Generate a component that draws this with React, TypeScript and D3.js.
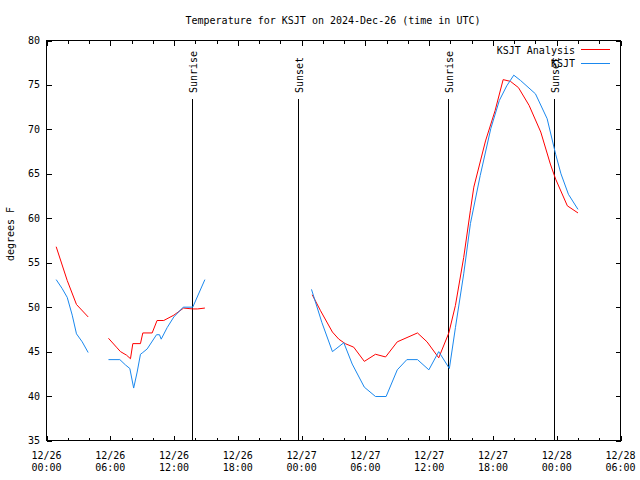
import React from "react";
import * as d3 from "d3";

// ---- data (hours after 2024-12-26 00:00 UTC, temperature °F; null = gap) ----
const analysisHours: (number | null)[] = [
  0.91, 1.95, 2.82, 3.92, null,
  5.83, 6.58, 6.96, 7.53, 7.9, 8.12, 8.84, 9.06, 9.94, 10.4, 11.03, 11.98, 12.9, 13.76, 14.2, 14.9, null,
  25.0, 25.78, 26.9, 27.5, 28.1, 28.9, 29.9, 30.95, 31.9, 33.0, 34.9, 35.8, 36.9, 37.85, 38.47, 39.25, 39.88,
  40.2, 41.3, 42.2, 42.96, 43.65, 44.4, 45.4, 46.5, 47.4, 47.9, 49.0, 50.0,
];
const analysisTemps: (number | null)[] = [
  56.8, 53.0, 50.3, 48.9, null,
  46.5, 45.5, 45.0, 44.6, 44.2, 45.9, 45.9, 47.1, 47.1, 48.5, 48.5, 49.1, 49.9, 49.8, 49.8, 49.9, null,
  51.4, 49.6, 47.2, 46.4, 45.9, 45.5, 43.9, 44.7, 44.4, 46.1, 47.1, 46.1, 44.3, 47.1, 50.2, 55.6, 60.9,
  63.5, 68.7, 72.1, 75.6, 75.4, 74.7, 72.7, 69.7, 66.1, 64.4, 61.4, 60.6,
];
const obsHours: (number | null)[] = [
  0.91, 1.47, 1.95, 2.42, 2.82, 3.36, 3.92, null,
  5.83, 6.9, 7.43, 7.84, 8.2, 8.53, 8.84, 9.06, 9.47, 10.35, 10.63, 10.79, 11.35, 11.98, 12.86, 13.76, 14.9, null,
  24.93, 25.9, 26.9, 27.97, 28.76, 29.9, 30.95, 31.95, 33.0, 33.9, 34.9, 35.97, 36.9, 37.9, 38.47, 39.25, 39.88,
  40.8, 41.8, 42.6, 43.3, 43.96, 44.6, 46.0, 47.1, 47.9, 48.4, 49.1, 50.0,
];
const obsTemps: (number | null)[] = [
  53.1, 52.1, 51.1, 49.1, 47.0, 46.1, 44.9, null,
  44.1, 44.1, 43.5, 43.1, 40.9, 42.7, 44.7, 44.9, 45.3, 46.9, 46.9, 46.4, 47.7, 48.9, 50.0, 50.0, 53.1, null,
  52.0, 48.3, 45.0, 46.0, 43.6, 41.0, 39.95, 39.95, 42.95, 44.1, 44.1, 42.95, 45.0, 43.1, 47.7, 53.75, 59.4,
  64.8, 70.1, 73.25, 74.9, 76.1, 75.5, 74.0, 71.2, 67.2, 65.0, 62.7, 61.0,
];

const sunEventHours = [13.7, 23.66, 37.77, 47.75];
const sunEventLabels = ["Sunrise", "Sunset", "Sunrise", "Sunset"];

const xTickDates = ["12/26", "12/26", "12/26", "12/26", "12/27", "12/27", "12/27", "12/27", "12/28", "12/28"];
const xTickTimes = ["00:00", "06:00", "12:00", "18:00", "00:00", "06:00", "12:00", "18:00", "00:00", "06:00"];
const yTicks = [35, 40, 45, 50, 55, 60, 65, 70, 75, 80];

const seriesNames = ["KSJT Analysis", "KSJT"];
const seriesColors = ["#ff0000", "#1a88ee"];

const TITLE = "Temperature for KSJT on 2024-Dec-26 (time in UTC)";
const Y_LABEL = "degrees F";

const START = Date.UTC(2024, 11, 26, 0, 0, 0);
const HOUR = 3600 * 1000;
const toDate = (h: number) => new Date(START + h * HOUR);

const FONT = "'DejaVu Sans Mono', 'Liberation Mono', monospace";

export default function App() {
  const W = 640, H = 480;
  const left = 46.5, right = 620.5, top = 40.5, bottom = 440.5;

  const x = d3.scaleUtc().domain([toDate(0), toDate(54)]).range([left, right]);
  const y = d3.scaleLinear().domain([35, 80]).range([bottom, top]);

  type P = { h: number | null; v: number | null };
  const mk = (hs: (number | null)[], vs: (number | null)[]): P[] => hs.map((h, i) => ({ h, v: vs[i] }));
  const line = d3
    .line<P>()
    .defined((d) => d.h != null && d.v != null)
    .x((d) => x(toDate(d.h as number)))
    .y((d) => y(d.v as number));

  const series = [mk(analysisHours, analysisTemps), mk(obsHours, obsTemps)];

  const majorTicks = x.ticks(d3.utcHour.every(6) as d3.TimeInterval);
  const minorTicks = x.ticks(d3.utcHour.every(2) as d3.TimeInterval);

  const txt = { fontFamily: FONT, fontSize: 10, fill: "#000" } as const;

  return (
    <svg
      width={W}
      height={H}
      style={{ position: "absolute", left: 0, top: 0, background: "#fff" }}
    >
      <rect x={0} y={0} width={W} height={H} fill="#fff" />
      <text x={333} y={23.5} textAnchor="middle" {...txt}>{TITLE}</text>

      {/* y ticks + labels */}
      {yTicks.map((t) => (
        <g key={"y" + t}>
          <line x1={left} x2={left + 5} y1={Math.round(y(t)) + 0.5} y2={Math.round(y(t)) + 0.5} stroke="#000" shapeRendering="crispEdges" />
          <line x1={right - 5} x2={right} y1={Math.round(y(t)) + 0.5} y2={Math.round(y(t)) + 0.5} stroke="#000" shapeRendering="crispEdges" />
          <text x={40} y={y(t) + 3.5} textAnchor="end" {...txt}>{t}</text>
        </g>
      ))}

      {/* x minor ticks */}
      {minorTicks.map((d, i) => {
        const px = Math.round(x(d)) + 0.5;
        return (
          <g key={"m" + i}>
            <line x1={px} x2={px} y1={bottom} y2={bottom - 3} stroke="#000" shapeRendering="crispEdges" />
            <line x1={px} x2={px} y1={top} y2={top + 3} stroke="#000" shapeRendering="crispEdges" />
          </g>
        );
      })}
      {/* x major ticks + labels */}
      {majorTicks.map((d, i) => {
        const px = Math.round(x(d)) + 0.5;
        return (
          <g key={"M" + i}>
            <line x1={px} x2={px} y1={bottom} y2={bottom - 5} stroke="#000" shapeRendering="crispEdges" />
            <line x1={px} x2={px} y1={top} y2={top + 5} stroke="#000" shapeRendering="crispEdges" />
            <text x={x(d)} y={459} textAnchor="middle" {...txt}>{xTickDates[i]}</text>
            <text x={x(d)} y={471} textAnchor="middle" {...txt}>{xTickTimes[i]}</text>
          </g>
        );
      })}

      {/* sunrise / sunset lines */}
      {sunEventHours.map((h, i) => {
        const px = Math.round(x(toDate(h))) + 0.5;
        return (
          <g key={"s" + i}>
            <line x1={px} x2={px} y1={99} y2={bottom} stroke="#000" shapeRendering="crispEdges" />
            <text transform={`translate(${px + 4.5},93) rotate(-90)`} textAnchor="start" {...txt}>
              {sunEventLabels[i]}
            </text>
          </g>
        );
      })}

      {/* data lines */}
      {series.map((s, i) => (
        <path key={"l" + i} d={line(s) || ""} fill="none" stroke={seriesColors[i]} strokeWidth={1} />
      ))}

      {/* legend */}
      {seriesNames.map((n, i) => (
        <g key={"lg" + i}>
          <text x={575} y={53.5 + i * 13} textAnchor="end" {...txt}>{n}</text>
          <line x1={581} x2={610} y1={49.5 + i * 13.5} y2={49.5 + i * 13.5} stroke={seriesColors[i]} shapeRendering="crispEdges" />
        </g>
      ))}

      {/* frame */}
      <rect x={left} y={top} width={right - left} height={bottom - top} fill="none" stroke="#000" shapeRendering="crispEdges" />

      <text transform={`translate(14,234) rotate(-90)`} textAnchor="middle" {...txt}>{Y_LABEL}</text>
    </svg>
  );
}
